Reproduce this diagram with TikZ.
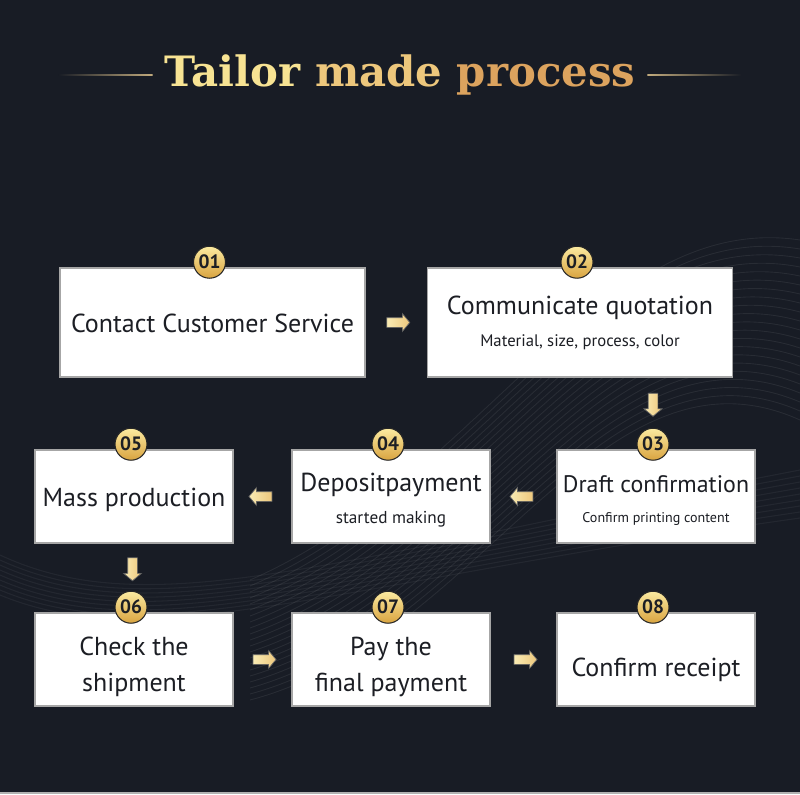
\documentclass[tikz,border=0pt]{standalone}
\usepackage{fontspec}
\setmainfont{PT Sans}
\newfontfamily\titlefont{DejaVu Serif}
\usetikzlibrary{shapes.arrows,calc}
\definecolor{bgnavy}{HTML}{181C25}
\definecolor{goldlt}{HTML}{F7E393}
\definecolor{goldmd}{HTML}{EDC77C}
\definecolor{golddk}{HTML}{DCA35E}
\definecolor{badgetop}{HTML}{FBEAA0}
\definecolor{badgebot}{HTML}{D9A440}
\definecolor{inkdark}{HTML}{1C1E24}
\newcommand{\subline}[2][9.5]{{\fontsize{#1}{11}\selectfont #2}}
\newcommand{\lines}[2][-2.5pt]{\raisebox{#1}[\height][\depth]{\begin{tabular}{@{}c@{}}#2\end{tabular}}}

\begin{document}
\begin{tikzpicture}[x=0.02cm, y=-0.02cm,
  stepbox/.style={draw=gray!70, line width=0.9pt, fill=white, inner sep=2pt,
    align=center, text=inkdark, font=\fontsize{14.8}{18}\selectfont},
  wide/.style={stepbox, minimum width=6.1cm, minimum height=2.18cm},
  narrow/.style={stepbox, minimum width=3.96cm, minimum height=1.86cm},
  badge/.style={circle, draw=black!85, line width=0.6pt, inner sep=0pt,
    minimum size=0.64cm, top color=badgetop, bottom color=badgebot,
    text=inkdark, font=\bfseries\fontsize{11}{11}\selectfont},
  flow/.style={single arrow, draw=black!60, line width=0.4pt,
    left color=goldlt!70!white, right color=goldmd,
    minimum height=0.46cm, inner xsep=0.04cm, inner ysep=0.09cm,
    single arrow head extend=0.08cm, single arrow tip angle=100}
]
  % background
  \fill[bgnavy] (0,0) rectangle (800,794);
  \useasboundingbox (0,0) rectangle (800,794);
  \foreach \i in {0,...,20}
    \draw[white, opacity=0.07, line width=0.5pt]
      (250,700-\i*6) .. controls (480,640-\i*8) and (600,330-\i*6) .. (800,420-\i*9);
  \foreach \i in {0,...,8}
    \draw[white, opacity=0.05, line width=0.6pt]
      (0,555+\i*5) .. controls (150,625+\i*4) and (330,560+\i*3) .. (800,470+\i*6);
  \draw[gray!60, line width=0.8pt] (0,793) -- (800,793);

  % title
  \node (title) at (400,75) {\titlefont\bfseries\fontsize{23.8}{28}\selectfont
    \textcolor{goldlt}{Tailor} \textcolor{goldmd}{made} \textcolor{golddk}{process}};
  \shade[left color=bgnavy, right color=goldmd!60!gray]
    ($(title.west)+(-100,-0.8)$) rectangle ($(title.west)+(-6,0.8)$);
  \shade[left color=goldmd!60!gray, right color=bgnavy]
    ($(title.east)+(6,-0.8)$) rectangle ($(title.east)+(100,0.8)$);

  % steps
  \node[wide] (s1) at (212.5,322.5) {\lines[-2.3pt]{Contact Customer Service}};
  \node[wide] (s2) at (580,322.5)
    {\lines[-1.1pt]{Communicate quotation\\\subline{Material, size, process, color}}};
  \node[narrow, font=\fontsize{13.6}{17.5}\selectfont] (s3) at (656,496.5)
    {\lines[-2.8pt]{Draft confirmation\\\subline[8]{Confirm printing content}}};
  \node[narrow] (s4) at (391,496.5) {\lines[-2.8pt]{Depositpayment\\\subline[9.8]{started making}}};
  \node[narrow] (s5) at (134,496.5) {\lines[-2.3pt]{Mass production}};
  \node[narrow] (s6) at (134,659.5) {\lines[-4.5pt]{Check the\\[2.4pt]shipment}};
  \node[narrow] (s7) at (391,659.5) {\lines[-4.5pt]{Pay the\\[2.4pt]final payment}};
  \node[narrow] (s8) at (656,659.5) {\lines[-6pt]{Confirm receipt}};

  % numbers
  \foreach \n in {1,...,8}
    \node[badge] (n\n) at ($(s\n.north)+(-3,-5)$) {0\n};

  % arrows
  \node[flow] at ($(s1.east)!0.5!(s2.west)$) {};
  \node[flow, rotate=-90] at ($(s2.south -| n3.north)!0.5!(n3.north)$) {};
  \node[flow, rotate=180] at ($(s3.west)!0.5!(s4.east)$) {};
  \node[flow, rotate=180] at ($(s4.west)!0.5!(s5.east)$) {};
  \node[flow, rotate=-90] at ($(s5.south)!0.5!(n6.north)$) {};
  \node[flow] at ($(s6.east)!0.5!(s7.west)$) {};
  \node[flow] at ($(s7.east)!0.5!(s8.west)$) {};
\end{tikzpicture}
\end{document}
